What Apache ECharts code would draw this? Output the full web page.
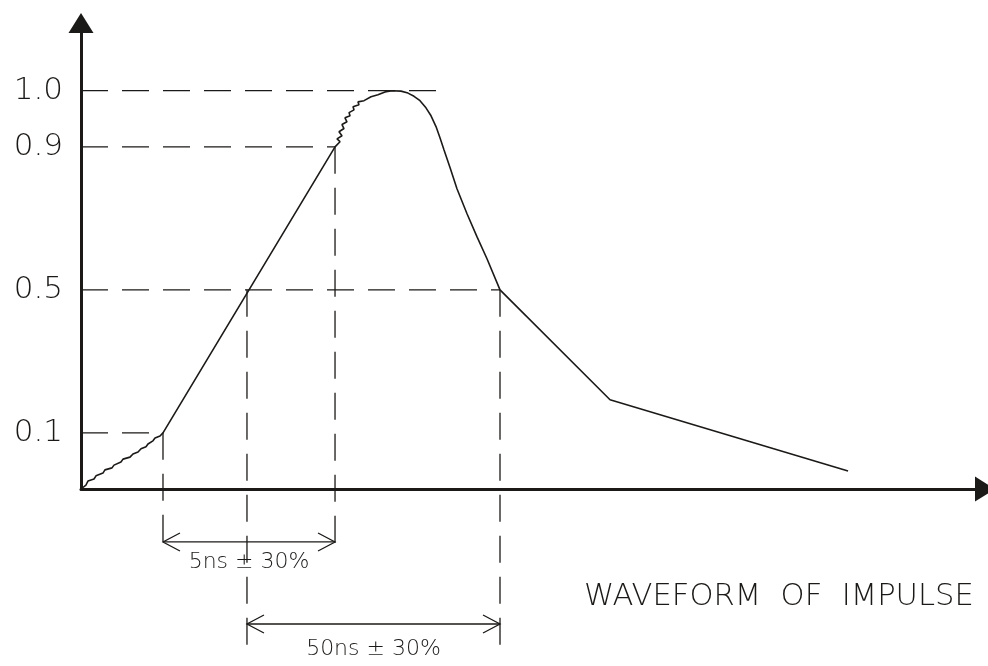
<!DOCTYPE html>
<html><head><meta charset="utf-8">
<script src="https://cdn.jsdelivr.net/npm/echarts@6/dist/echarts.min.js"></script>
<style>html,body{margin:0;padding:0;background:#fff}#c{width:988px;height:666px}</style>
</head><body><div id="c"></div>
<script>
// waveform (arbitrary time units, normalised amplitude)
const curveT = [0, 0.55, 0.77, 1.44, 1.66, 2.43, 2.65, 3.43, 3.65, 4.42, 4.65, 5.42, 5.75, 6.31, 6.64, 7.19, 7.41, 7.96, 8.19, 8.74, 9.07,
  28.10, 28.65, 28.32, 28.87, 28.54, 29.09, 28.87, 29.42, 29.20, 29.76, 29.65, 30.20, 30.09, 30.75, 30.64, 31.31, 31.31, 32.08, 32.85, 33.63, 34.40,
  35.40, 36.17, 36.84, 37.50, 38.16, 38.72, 39.27, 39.71, 40.15, 40.82, 41.59, 42.70, 43.81, 44.91, 46.35, 58.52, 84.85];
const curveV = [0, 0.010, 0.020, 0.025, 0.033, 0.040, 0.048, 0.053, 0.060, 0.068, 0.075, 0.080, 0.088, 0.093, 0.101, 0.106, 0.113, 0.121, 0.128, 0.133, 0.141,
  0.859, 0.872, 0.879, 0.887, 0.897, 0.905, 0.915, 0.922, 0.932, 0.937, 0.945, 0.952, 0.960, 0.965, 0.972, 0.975, 0.980, 0.985, 0.990, 0.997, 1.000,
  0.999, 0.994, 0.986, 0.975, 0.957, 0.937, 0.910, 0.882, 0.852, 0.807, 0.754, 0.691, 0.633, 0.578, 0.500, 0.224, 0.045];

// level marks
const levelLabels = ['0.1', '0.5', '0.9', '1.0'];
const levelValues = [0.141, 0.5, 0.859, 1.0];
const levelEndT = [9.07, 46.35, 28.10, 39.71];

// vertical drop lines
const dropT = [9.07, 28.10, 18.36, 46.35];
const dropTop = [0.141, 0.859, 0.5, 0.5];
const dropBottom = [-0.166, -0.166, -0.417, -0.417];

// dimension arrows
const dimLabels = ['5ns ± 30%', '50ns ± 30%'];
const dimStartT = [9.07, 18.36];
const dimEndT = [28.10, 46.35];
const dimLevel = [-0.133, -0.339];

const caption = 'WAVEFORM  OF  IMPULSE';

const INK = '#1c1a18';
const FONT = '"DejaVu Sans", "Liberation Sans", sans-serif';
const dimTextDy = [20, 25];

const refData = [];
levelValues.forEach((v, i) => refData.push([0, v, levelEndT[i], v]));
dropT.forEach((t, i) => refData.push([t, dropTop[i], t, dropBottom[i]]));

const dimData = dimLabels.map((l, i) => [dimStartT[i], dimEndT[i], dimLevel[i], i]);

const chart = echarts.init(document.getElementById('c'), null, {renderer: 'canvas'});
chart.setOption({
  backgroundColor: '#fff',
  animation: false,
  title: {
    text: caption, left: 584, top: 582, padding: 0,
    textStyle: {fontFamily: FONT, fontSize: 30.6, fontWeight: 200, color: INK}
  },
  grid: {left: 81, right: 3, top: 23, bottom: 177},
  xAxis: {
    type: 'value', min: 0, max: 100,
    axisLine: {show: true, symbol: ['none', 'triangle'], symbolSize: [25, 20], lineStyle: {color: INK, width: 3}},
    axisTick: {show: false}, axisLabel: {show: false}, splitLine: {show: false}
  },
  yAxis: {
    type: 'value', min: 0, max: 1.17,
    axisLine: {show: true, symbol: ['none', 'triangle'], symbolSize: [25, 20], lineStyle: {color: INK, width: 3}},
    axisTick: {show: false}, splitLine: {show: false},
    axisLabel: {
      show: true, customValues: levelValues, margin: 18,
      fontFamily: FONT, fontSize: 31, fontWeight: 200, color: INK,
      formatter: v => { const i = levelValues.indexOf(v); return i >= 0 ? levelLabels[i] : ''; }
    }
  },
  series: [
    {
      type: 'custom', clip: false, silent: true,
      data: refData,
      renderItem: (params, api) => {
        const p1 = api.coord([api.value(0), api.value(1)]);
        const p2 = api.coord([api.value(2), api.value(3)]);
        return {type: 'line', shape: {x1: p1[0], y1: p1[1], x2: p2[0], y2: p2[1]},
          style: {stroke: INK, lineWidth: 1.3, lineDash: [27, 14], fill: null}};
      }
    },
    {
      type: 'line', clip: false, silent: true, showSymbol: false, smooth: false,
      data: curveT.map((t, i) => [t, curveV[i]]),
      lineStyle: {color: INK, width: 1.6}
    },
    {
      type: 'custom', clip: false, silent: true,
      data: dimData,
      renderItem: (params, api) => {
        const a = api.coord([api.value(0), api.value(2)]);
        const b = api.coord([api.value(1), api.value(2)]);
        const L = 17, W = 9;
        const idx = api.value(3);
        const st = {stroke: INK, lineWidth: 1.3, fill: null};
        return {type: 'group', children: [
          {type: 'line', shape: {x1: a[0], y1: a[1], x2: b[0], y2: b[1]}, style: st},
          {type: 'polyline', shape: {points: [[a[0] + L, a[1] - W], [a[0], a[1]], [a[0] + L, a[1] + W]]}, style: st},
          {type: 'polyline', shape: {points: [[b[0] - L, b[1] - W], [b[0], b[1]], [b[0] - L, b[1] + W]]}, style: st},
          {type: 'text', x: (a[0] + b[0]) / 2, y: a[1] + dimTextDy[idx],
            style: {text: dimLabels[idx], fontFamily: FONT, fontSize: 22, fontWeight: 200, fill: INK, align: 'center', verticalAlign: 'middle'}}
        ]};
      }
    }
  ]
});
</script></body></html>
